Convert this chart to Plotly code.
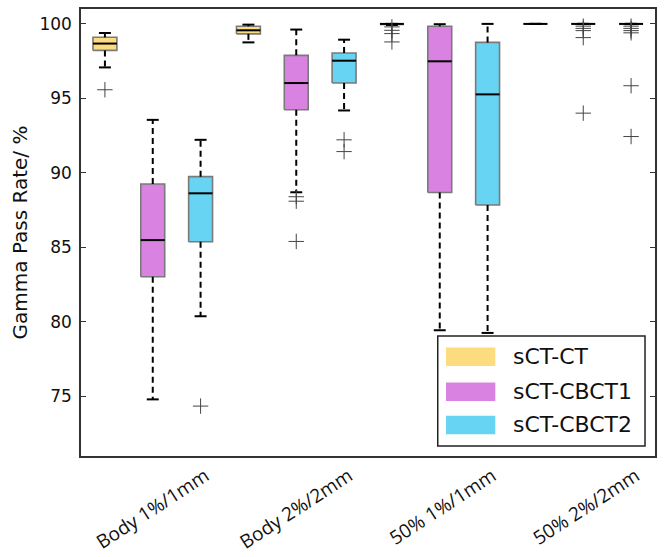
import plotly.graph_objects as go

# ---------------- data ----------------
categories = ["Body 1%/1mm", "Body 2%/2mm", "50% 1%/1mm", "50% 2%/2mm"]
series_names = ["sCT-CT", "sCT-CBCT1", "sCT-CBCT2"]

ct_upper = [99.39, 99.95, 100.0, 100.0]
ct_q3 = [99.10, 99.84, 100.0, 100.0]
ct_median = [98.68, 99.57, 100.0, 100.0]
ct_q1 = [98.22, 99.33, 99.97, 100.0]
ct_lower = [97.08, 98.76, 99.93, 100.0]
ct_outliers = [[95.58], [], [99.8, 99.57, 99.35, 98.79], []]

cb1_upper = [93.56, 99.62, 99.98, 100.0]
cb1_q3 = [89.26, 97.89, 99.84, 100.0]
cb1_median = [85.49, 96.03, 97.49, 100.0]
cb1_q1 = [83.03, 94.24, 88.68, 100.0]
cb1_lower = [74.80, 88.70, 79.44, 100.0]
cb1_outliers = [[], [88.4, 88.1, 85.4], [], [99.85, 99.7, 99.55, 99.08, 94.01]]

cb2_upper = [92.22, 98.94, 100.0, 100.0]
cb2_q3 = [89.75, 98.05, 98.76, 100.0]
cb2_median = [88.63, 97.53, 95.27, 100.0]
cb2_q1 = [85.38, 96.03, 87.85, 100.0]
cb2_lower = [80.38, 94.19, 79.26, 100.0]
cb2_outliers = [[74.35], [92.22, 91.43], [], [99.85, 99.7, 99.55, 99.4, 95.85, 92.44]]

y_ticks = [75, 80, 85, 90, 95, 100]

# ---------------- style ----------------
fills = ["#FDDC80", "#DA82E2", "#66D4F2"]
edge = "#7a7a7a"
box_half = 0.25
cap_half = 0.125
label_shift = 1.1  # rotated labels are anchored at their right end
font_main = "DejaVu Sans"

stats = [
    (ct_upper, ct_q3, ct_median, ct_q1, ct_lower, ct_outliers),
    (cb1_upper, cb1_q3, cb1_median, cb1_q1, cb1_lower, cb1_outliers),
    (cb2_upper, cb2_q3, cb2_median, cb2_q1, cb2_lower, cb2_outliers),
]

n_series = len(series_names)
fig = go.Figure()

for s, (up, q3, med, q1, lo, outl) in enumerate(stats):
    pos = [1 + n_series * g + s for g in range(len(categories))]
    for g, p in enumerate(pos):
        fig.add_trace(go.Scatter(
            x=[p - box_half, p + box_half, p + box_half, p - box_half, p - box_half],
            y=[q1[g], q1[g], q3[g], q3[g], q1[g]],
            mode="lines", fill="toself", fillcolor=fills[s],
            line=dict(color=edge, width=1.6), showlegend=False, hoverinfo="skip"))
    wx, wy = [], []
    for g, p in enumerate(pos):
        wx += [p, p, None, p, p, None]
        wy += [q3[g], up[g], None, q1[g], lo[g], None]
    fig.add_trace(go.Scatter(x=wx, y=wy, mode="lines",
                             line=dict(color="black", width=2, dash="6px,4px"),
                             showlegend=False, hoverinfo="skip"))
    cx, cy = [], []
    for g, p in enumerate(pos):
        cx += [p - cap_half, p + cap_half, None, p - cap_half, p + cap_half, None]
        cy += [up[g], up[g], None, lo[g], lo[g], None]
    fig.add_trace(go.Scatter(x=cx, y=cy, mode="lines",
                             line=dict(color="black", width=2),
                             showlegend=False, hoverinfo="skip"))
    mx, my = [], []
    for g, p in enumerate(pos):
        mx += [p - box_half, p + box_half, None]
        my += [med[g], med[g], None]
    fig.add_trace(go.Scatter(x=mx, y=my, mode="lines",
                             line=dict(color="black", width=2),
                             showlegend=False, hoverinfo="skip"))
    ox, oy = [], []
    for g, p in enumerate(pos):
        for v in outl[g]:
            ox.append(p)
            oy.append(v)
    fig.add_trace(go.Scatter(x=ox, y=oy, mode="markers",
                             marker=dict(symbol="cross-thin", size=11,
                                         line=dict(color="#444444", width=1)),
                             showlegend=False, hoverinfo="skip"))

group_centers = [1 + n_series * g + (n_series - 1) / 2 for g in range(len(categories))]

annotations = []
shapes = []
leg_x0, leg_x1, leg_y0, leg_y1 = 0.6215, 0.9826, 0.0224, 0.2685
shapes.append(dict(type="rect", xref="paper", yref="paper", x0=leg_x0, x1=leg_x1,
                   y0=leg_y0, y1=leg_y1, line=dict(color="#222222", width=1.5),
                   fillcolor="white", layer="above"))
row_y = [0.2221, 0.1438, 0.0694]
sw_h = 0.019
for s, name in enumerate(series_names):
    shapes.append(dict(type="rect", xref="paper", yref="paper", x0=0.6372, x1=0.7205,
                       y0=row_y[s] - sw_h, y1=row_y[s] + sw_h,
                       line=dict(color=fills[s], width=1.5), fillcolor=fills[s],
                       layer="above"))
    annotations.append(dict(x=0.7495, y=row_y[s], xref="paper", yref="paper",
                            text=name, showarrow=False, xanchor="left", yanchor="middle",
                            font=dict(family=font_main, size=22, color="#111111")))

fig.update_layout(
    width=665, height=557,
    margin=dict(l=81, r=8, t=9, b=101),
    paper_bgcolor="white", plot_bgcolor="white",
    shapes=shapes, annotations=annotations,
    showlegend=False,
    font=dict(family=font_main, color="#111111"),
)
fig.update_xaxes(range=[0.5, 12.5], showline=True, linecolor="#333333", linewidth=1.5,
                 mirror=True, showgrid=False, zeroline=False,
                 tickvals=[c + label_shift for c in group_centers], ticktext=categories,
                 tickangle=-33, ticks="", automargin=False,
                 tickfont=dict(family="Open Sans", size=19, color="#111111"))
fig.update_yaxes(range=[71, 101], tickvals=y_ticks, ticks="inside", ticklen=5,
                 tickwidth=1, tickcolor="#333333",
                 showline=True, linecolor="#333333", linewidth=1.5, mirror="ticks",
                 showgrid=False, zeroline=False, ticklabelstandoff=4,
                 tickfont=dict(family=font_main, size=17, color="#111111"),
                 title=dict(text="Gamma Pass Rate/ %", standoff=6,
                            font=dict(family=font_main, size=20, color="#111111")))

fig.write_html("out.html")
